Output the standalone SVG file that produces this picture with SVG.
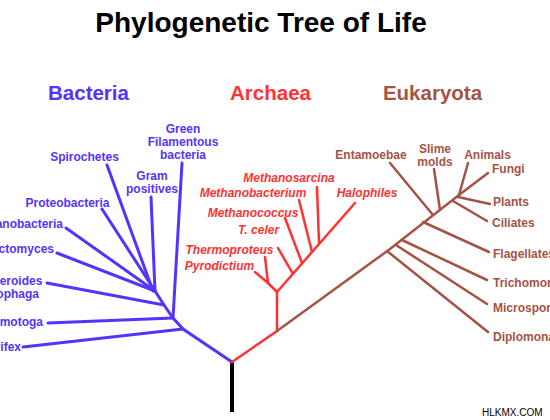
<svg xmlns="http://www.w3.org/2000/svg" width="550" height="420" viewBox="0 0 550 420">
<style>
text{font-family:"Liberation Sans",Arial,sans-serif;font-weight:bold}
.t{font-size:28px;fill:#000}
.h{font-size:20.5px;text-anchor:middle}
.l{font-size:12px}
.b{fill:#5533ff}
.a{fill:#ff3333;font-style:italic}
.e{fill:#a45346}
.m{text-anchor:middle}
.n{text-anchor:end}
.bl{stroke:#5533ff;stroke-width:3;fill:none;stroke-linecap:round}
.rl{stroke:#ff3333;stroke-width:2.5;fill:none;stroke-linecap:round}
.el{stroke:#a45346;stroke-width:2.5;fill:none;stroke-linecap:round}
.wm{font-family:"Liberation Sans",Arial,sans-serif;font-weight:normal;font-size:10px;fill:#000}
</style>
<rect width="550" height="420" fill="#fff"/>
<g id="title"><text class="t" x="261" y="32" text-anchor="middle">Phylogenetic Tree of Life</text></g>
<g id="headers">
<text class="h b" x="88.5" y="100">Bacteria</text>
<text class="h a" x="270.5" y="100" style="font-style:normal">Archaea</text>
<text class="h e" x="432.5" y="100">Eukaryota</text>
</g>
<g id="connectors">
<line x1="232" y1="362" x2="232" y2="412" stroke="#000" stroke-width="4"/>
<polyline class="bl" points="232,362 183,329 173,318 164,305 155,291"/>
<line class="bl" x1="23" y1="347" x2="183" y2="329"/>
<line class="bl" x1="48" y1="323" x2="173" y2="318"/>
<line class="bl" x1="182" y1="163" x2="173" y2="318"/>
<line class="bl" x1="47" y1="283" x2="164" y2="305"/>
<line class="bl" x1="57" y1="253" x2="155" y2="291"/>
<line class="bl" x1="66" y1="228" x2="155" y2="291"/>
<line class="bl" x1="102" y1="209" x2="155" y2="291"/>
<line class="bl" x1="107" y1="165" x2="153" y2="291"/>
<line class="bl" x1="151" y1="197" x2="155" y2="291"/>
<polyline class="rl" points="232,362 277,331 277,292"/>
<line class="rl" x1="277" y1="292" x2="355" y2="203"/>
<polyline class="rl" points="255,272 268,283 277,292"/>
<line class="rl" x1="265" y1="257" x2="268" y2="283"/>
<line class="rl" x1="278" y1="248" x2="293" y2="274"/>
<line class="rl" x1="285" y1="218" x2="302" y2="263"/>
<line class="rl" x1="299" y1="200" x2="312" y2="252"/>
<line class="rl" x1="317" y1="187" x2="319" y2="243"/>
<polyline class="el" points="277,331 390,249 459,195"/>
<line class="el" x1="468" y1="163" x2="459" y2="195"/>
<line class="el" x1="488" y1="173" x2="459" y2="195"/>
<line class="el" x1="490" y1="204" x2="458" y2="197"/>
<line class="el" x1="487" y1="221" x2="453" y2="201"/>
<line class="el" x1="434" y1="169" x2="440" y2="210"/>
<line class="el" x1="390" y1="163" x2="433" y2="215"/>
<line class="el" x1="489" y1="252" x2="423" y2="222"/>
<line class="el" x1="487" y1="280" x2="402" y2="240"/>
<line class="el" x1="487" y1="304" x2="396" y2="245"/>
<line class="el" x1="488" y1="332" x2="387" y2="251"/>
</g>
<g id="bacteria">
<g id="n-spirochetes"><text class="l b m" x="84.5" y="161">Spirochetes</text></g>
<g id="n-greenfil"><text class="l b m" x="183" y="133">Green</text><text class="l b m" x="183" y="146">Filamentous</text><text class="l b m" x="183" y="159">bacteria</text></g>
<g id="n-grampos"><text class="l b m" x="152" y="180">Gram</text><text class="l b m" x="152" y="193">positives</text></g>
<g id="n-proteo"><text class="l b m" x="67.5" y="207">Proteobacteria</text></g>
<g id="n-cyano"><text class="l b n" x="63" y="228">Cyanobacteria</text></g>
<g id="n-plancto"><text class="l b n" x="54" y="253">Planctomyces</text></g>
<g id="n-bactero"><text class="l b m" x="8" y="285">Bacteroides</text><text class="l b m" x="8" y="298">Cytophaga</text></g>
<g id="n-thermotoga"><text class="l b n" x="43" y="326">Thermotoga</text></g>
<g id="n-aquifex"><text class="l b n" x="21" y="351">Aquifex</text></g>
</g>
<g id="archaea">
<g id="n-methanosarcina"><text class="l a m" x="289" y="182">Methanosarcina</text></g>
<g id="n-methanobacterium"><text class="l a m" x="253" y="197">Methanobacterium</text></g>
<g id="n-halophiles"><text class="l a m" x="367" y="197">Halophiles</text></g>
<g id="n-methanococcus"><text class="l a m" x="253" y="217">Methanococcus</text></g>
<g id="n-tceler"><text class="l a m" x="258.5" y="234">T. celer</text></g>
<g id="n-thermoproteus"><text class="l a m" x="229.5" y="254">Thermoproteus</text></g>
<g id="n-pyrodictium"><text class="l a m" x="219.5" y="270">Pyrodictium</text></g>
</g>
<g id="eukaryota">
<g id="n-entamoebae"><text class="l e m" x="371" y="159">Entamoebae</text></g>
<g id="n-slime"><text class="l e m" x="435" y="153">Slime</text><text class="l e m" x="435" y="166">molds</text></g>
<g id="n-animals"><text class="l e m" x="487.5" y="159">Animals</text></g>
<g id="n-fungi"><text class="l e" x="492" y="173">Fungi</text></g>
<g id="n-plants"><text class="l e" x="493" y="206">Plants</text></g>
<g id="n-ciliates"><text class="l e" x="492" y="227">Ciliates</text></g>
<g id="n-flagellates"><text class="l e" x="493" y="258">Flagellates</text></g>
<g id="n-trichomonads"><text class="l e" x="493" y="287">Trichomonads</text></g>
<g id="n-microsporidia"><text class="l e" x="493" y="312">Microsporidia</text></g>
<g id="n-diplomonads"><text class="l e" x="493" y="341">Diplomonads</text></g>
</g>
<text class="wm" x="482" y="416">HLKMX.COM</text>
</svg>
